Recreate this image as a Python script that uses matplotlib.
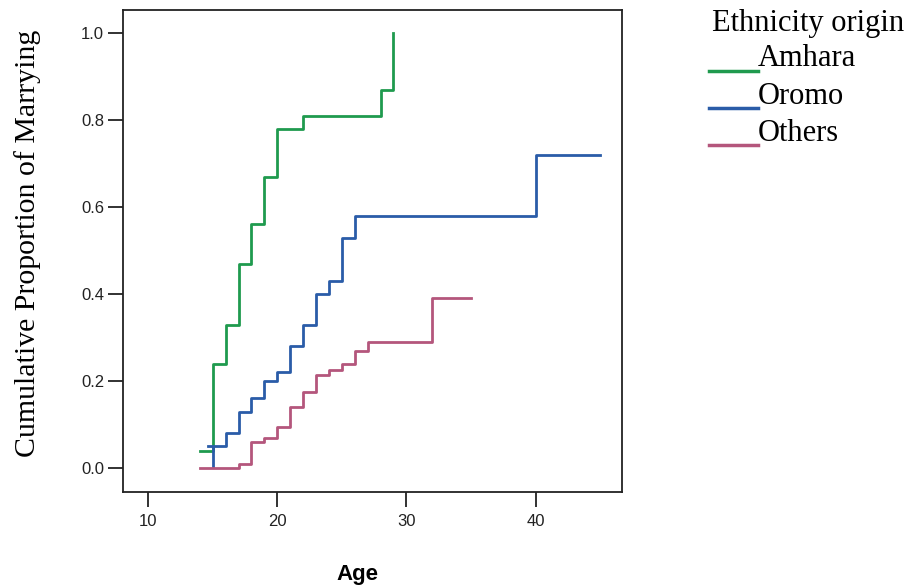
import matplotlib
matplotlib.use("Agg")
import matplotlib.pyplot as plt
from matplotlib.lines import Line2D

# data (step functions, value holds until next age)
amhara_age = [14, 15, 16, 17, 18, 19, 20, 22, 28, 29]
amhara_val = [0.04, 0.24, 0.33, 0.47, 0.56, 0.67, 0.78, 0.81, 0.87, 1.0]

oromo_age = [14.6, 16, 17, 18, 19, 20, 21, 22, 23, 24, 25, 26, 40, 45]
oromo_val = [0.05, 0.08, 0.13, 0.16, 0.20, 0.22, 0.28, 0.33, 0.40, 0.43, 0.53, 0.58, 0.72, 0.72]
oromo_first = (15, 0.0, 0.05)  # first jump of Oromo at age 15

others_age = [14, 17, 18, 19, 20, 21, 22, 23, 24, 25, 26, 27, 32, 35]
others_val = [0.0, 0.01, 0.06, 0.07, 0.095, 0.14, 0.175, 0.215, 0.225, 0.24, 0.27, 0.29, 0.39, 0.39]

groups = ["Amhara", "Oromo", "Others"]
colors = ["#1f9a4e", "#2a5ca8", "#b4567c"]

xticks = [10, 20, 30, 40]
yticks = [0.0, 0.2, 0.4, 0.6, 0.8, 1.0]

fig = plt.figure(figsize=(9.13, 5.87), dpi=100)
ax = fig.add_axes([0.1347, 0.1618, 0.5466, 0.8212])

lw = 2.0
ax.step(amhara_age, amhara_val, where="post", color=colors[0], lw=lw)
ax.step(oromo_age, oromo_val, where="post", color=colors[1], lw=lw)
ax.vlines(oromo_first[0], oromo_first[1], oromo_first[2], color=colors[1], lw=lw)
ax.step(others_age, others_val, where="post", color=colors[2], lw=lw)

ax.set_xlim(8.05, 46.7)
ax.set_ylim(-0.055, 1.053)
ax.set_xticks(xticks)
ax.set_yticks(yticks)
ax.set_yticklabels([f"{v:.1f}" for v in yticks])
ax.tick_params(direction="out", length=10.5, width=1.3, labelsize=12, colors="#222222")
ax.tick_params(axis="x", pad=5)
ax.tick_params(axis="y", pad=3)
for s in ax.spines.values():
    s.set_linewidth(1.3)
    s.set_color("#222222")

ax.set_xlabel("Age", fontsize=16, fontweight="bold", family="Liberation Sans")
ax.xaxis.set_label_coords(0.47, -0.15)
ax.set_ylabel("Cumulative Proportion of Marrying", fontsize=21.5, family="Liberation Serif")
ax.yaxis.set_label_coords(-0.165, 0.515)
for lab in ax.get_xticklabels() + ax.get_yticklabels():
    lab.set_family("Liberation Sans")

# legend drawn by hand: line sits at the baseline, text follows right after
W, H = 913, 587
fig.text(712 / W, 1 - 24 / H, "Ethnicity origin", fontsize=22, family="Liberation Serif",
         va="center", ha="left")
for i, (g, c) in enumerate(zip(groups, colors)):
    ly = 71 + 37 * i
    fig.add_artist(Line2D([709 / W, 758 / W], [1 - ly / H, 1 - ly / H], color=c, lw=2.5))
    fig.text(758 / W, 1 - (ly - 12) / H, g, fontsize=22, family="Liberation Serif",
             va="center", ha="left")

fig.savefig("out.png", dpi=100)
